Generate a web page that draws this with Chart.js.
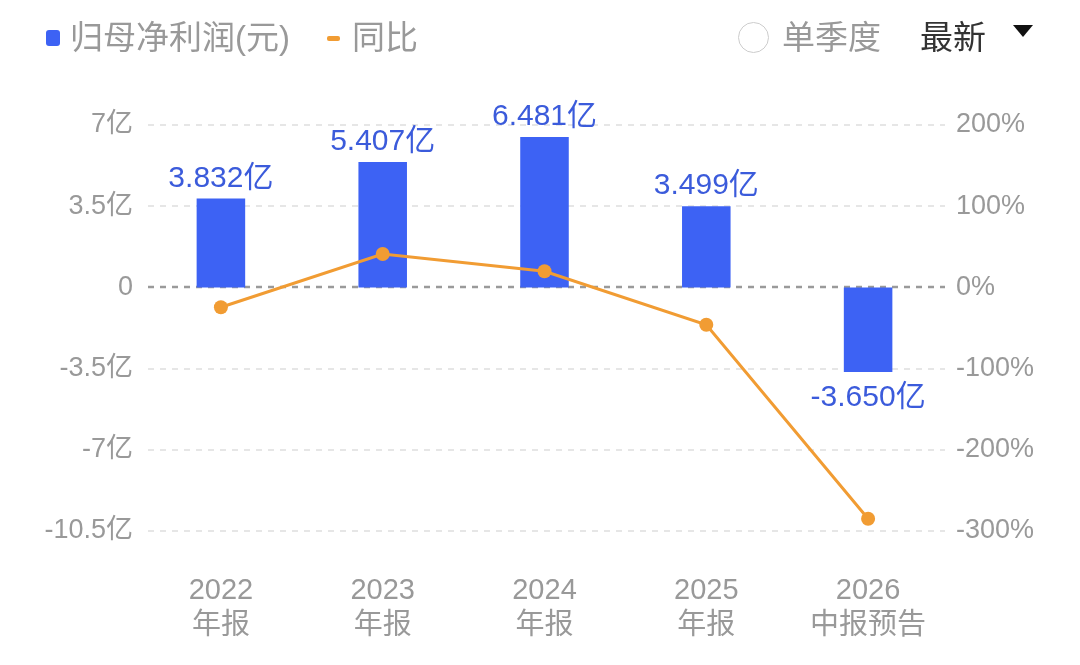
<!DOCTYPE html>
<html>
<head>
<meta charset="utf-8">
<script src="https://cdn.jsdelivr.net/npm/chart.js@4/dist/chart.umd.min.js"></script>
<style>
  body { margin: 0; background: #fff; }
  #wrap { position: relative; width: 1080px; height: 665px; font-family: "Liberation Sans", "Noto Sans CJK SC", sans-serif; }
  #chart { position: absolute; left: 0; top: 0; }
  .lg { position: absolute; top: 17px; font-size: 33px; line-height: 42px; color: #999; white-space: nowrap; }
  .sq { position: absolute; left: 46px; top: 30px; width: 14px; height: 16px; border-radius: 3px; background: #3d62f4; }
  .dash { position: absolute; left: 327px; top: 36px; width: 13px; height: 5px; border-radius: 2px; background: #f19c33; }
  .radio { position: absolute; left: 738px; top: 22px; width: 31px; height: 31px; border: 1.5px solid #ccc; border-radius: 50%; box-sizing: border-box; }
  .tri { position: absolute; left: 1013px; top: 25px; width: 0; height: 0; border-left: 10px solid transparent; border-right: 10px solid transparent; border-top: 12px solid #111; }
</style>
</head>
<body>
<div id="wrap">
  <canvas id="chart" width="1080" height="665"></canvas>
  <div class="sq"></div>
  <div class="lg" style="left:70px">归母净利润(元)</div>
  <div class="dash"></div>
  <div class="lg" style="left:352px">同比</div>
  <div class="radio"></div>
  <div class="lg" style="left:782px">单季度</div>
  <div class="lg" style="left:920px;color:#333">最新</div>
  <div class="tri"></div>
</div>
<script>
const categories = [["2022", "年报"], ["2023", "年报"], ["2024", "年报"], ["2025", "年报"], ["2026", "中报预告"]];
const profit = [3.832, 5.407, 6.481, 3.499, -3.650];   // 亿元
const yoy = [-24.5, 41.1, 19.9, -46.0, -285];          // %
const leftTicks = [-10.5, -7, -3.5, 0, 3.5, 7];
const rightTicks = [-300, -200, -100, 0, 100, 200];

const FONT = '"Liberation Sans", "Noto Sans CJK SC", sans-serif';
Chart.defaults.font.family = FONT;

// dashed grid lines, zero line darker
const gridPlugin = {
  id: "dashGrid",
  beforeDatasetsDraw(chart) {
    const ctx = chart.ctx;
    const y = chart.scales.y;
    ctx.save();
    leftTicks.forEach((v) => {
      const py = Math.round(y.getPixelForValue(v));
      ctx.beginPath();
      ctx.setLineDash([6, 6]);
      ctx.lineWidth = v === 0 ? 2.5 : 2;
      ctx.strokeStyle = v === 0 ? "#9a9a9a" : "#e6e6e6";
      ctx.moveTo(148, py);
      ctx.lineTo(945, py);
      ctx.stroke();
    });
    ctx.restore();
  },
};

// value labels above / below bars
const labelPlugin = {
  id: "barLabels",
  afterDatasetsDraw(chart) {
    const ctx = chart.ctx;
    const meta = chart.getDatasetMeta(1);
    ctx.save();
    ctx.font = "30px " + FONT;
    ctx.fillStyle = "#3b5bdb";
    ctx.textAlign = "center";
    meta.data.forEach((bar, i) => {
      const v = profit[i];
      const txt = v.toFixed(3) + "亿";
      if (v >= 0) {
        ctx.textBaseline = "bottom";
        ctx.fillText(txt, bar.x, bar.y - 5);
      } else {
        ctx.textBaseline = "top";
        ctx.fillText(txt, bar.x, bar.y + 11);
      }
    });
    ctx.restore();
  },
};

new Chart(document.getElementById("chart"), {
  data: {
    labels: categories,
    datasets: [
      {
        type: "line",
        data: yoy,
        yAxisID: "y1",
        borderColor: "#f19c33",
        backgroundColor: "#f19c33",
        borderWidth: 3,
        pointRadius: 7,
        pointBackgroundColor: "#f19c33",
        pointBorderWidth: 0,
        tension: 0,
        order: 0,
      },
      {
        type: "bar",
        data: profit,
        yAxisID: "y",
        backgroundColor: "#3d62f4",
        barPercentage: 0.3,
        categoryPercentage: 1,
        order: 1,
      },
    ],
  },
  options: {
    responsive: false,
    animation: false,
    devicePixelRatio: 1,
    layout: { padding: { top: 125, left: 0, right: 0, bottom: 0 } },
    plugins: { legend: { display: false }, tooltip: { enabled: false } },
    scales: {
      x: {
        offset: true,
        grid: { display: false, drawTicks: false },
        border: { display: false },
        ticks: { color: "#999", font: { size: 29 }, padding: 43, maxRotation: 0 },
        afterFit: (s) => { s.height = 134; },
      },
      y: {
        position: "left",
        min: -10.5,
        max: 7,
        afterBuildTicks: (s) => { s.ticks = leftTicks.map((v) => ({ value: v })); },
        grid: { display: false, drawTicks: false },
        border: { display: false },
        ticks: {
          color: "#999",
          font: { size: 27 },
          padding: 7,
          callback: (v) => (v === 0 ? "0" : v + "亿"),
        },
        afterFit: (s) => { s.width = 140; },
      },
      y1: {
        position: "right",
        min: -300,
        max: 200,
        afterBuildTicks: (s) => { s.ticks = rightTicks.map((v) => ({ value: v })); },
        grid: { display: false, drawTicks: false },
        border: { display: false },
        ticks: {
          color: "#999",
          font: { size: 27 },
          padding: 7,
          callback: (v) => v + "%",
        },
        afterFit: (s) => { s.width = 131; },
      },
    },
  },
  plugins: [gridPlugin, labelPlugin],
});
</script>
</body>
</html>
